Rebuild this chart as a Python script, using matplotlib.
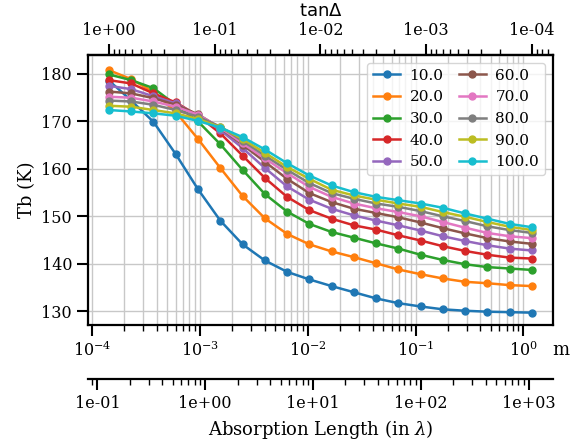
# Tb vs absorption depth for a set of model runs, with tanDelta and
# absorption-length (in wavelengths) as extra x axes
import numpy as np
import matplotlib
matplotlib.use("Agg")
import matplotlib.pyplot as plt
from matplotlib.ticker import FixedLocator, FormatStrFormatter, NullFormatter

plt.rcParams['font.family'] = 'DejaVu Serif'
plt.rcParams['mathtext.fontset'] = 'dejavuserif'

# loss tangent sampled on the run grid
tan_delta = np.logspace(0, -4, 20)

# depth conversion (m) fitted to the axes, and wavelength (m)
depth_scale = 1.4365e-4
depth_power = 0.98055
wavelength = 1.12e-3

labels = ['10.0', '20.0', '30.0', '40.0', '50.0',
          '60.0', '70.0', '80.0', '90.0', '100.0']

tb_10 = [178.6, 174.4, 169.9, 163.1, 155.7, 149.1, 144.1, 140.7, 138.3, 136.7,
         135.3, 134.0, 132.7, 131.7, 131.0, 130.4, 130.1, 129.9, 129.8, 129.7]
tb_20 = [180.8, 178.9, 176.2, 172.0, 166.3, 160.2, 154.3, 149.6, 146.3, 144.1,
         142.6, 141.4, 140.1, 138.8, 137.8, 136.9, 136.2, 135.9, 135.5, 135.3]
tb_30 = [179.9, 178.7, 177.0, 173.5, 170.0, 165.2, 159.8, 154.7, 151.0, 148.4,
         146.7, 145.5, 144.3, 143.2, 141.9, 140.8, 139.9, 139.3, 139.0, 138.7]
tb_40 = [178.7, 178.0, 175.9, 174.0, 171.2, 167.5, 162.8, 158.1, 154.1, 151.3,
         149.5, 148.1, 147.2, 146.0, 144.9, 143.7, 142.7, 141.9, 141.3, 141.1]
tb_50 = [177.5, 176.8, 175.3, 173.8, 171.2, 168.2, 164.4, 160.2, 156.3, 153.5,
         151.6, 150.2, 149.1, 148.1, 147.0, 145.8, 144.8, 143.9, 143.2, 142.8]
tb_60 = [176.3, 175.9, 174.9, 173.5, 171.5, 168.6, 165.1, 161.5, 157.9, 154.9,
         153.0, 151.6, 150.7, 149.8, 148.7, 147.5, 146.4, 145.4, 144.7, 144.2]
tb_70 = [175.2, 175.0, 174.2, 173.1, 171.4, 168.7, 165.4, 162.2, 159.1, 156.2,
         154.1, 152.7, 151.7, 150.9, 150.0, 148.8, 147.6, 146.5, 145.8, 145.4]
tb_80 = [174.4, 174.2, 173.5, 172.4, 171.0, 168.9, 165.9, 162.8, 159.8, 157.0,
         154.9, 153.7, 152.7, 152.0, 151.1, 150.0, 149.0, 147.9, 147.1, 146.5]
tb_90 = [173.3, 173.1, 172.4, 171.7, 170.5, 168.8, 166.3, 163.4, 160.4, 157.9,
         155.6, 154.4, 153.5, 152.7, 152.0, 150.9, 149.9, 148.8, 147.8, 147.1]
tb_100 = [172.4, 172.1, 171.7, 171.2, 170.1, 168.7, 166.7, 164.1, 161.2, 158.6,
          156.5, 155.1, 154.1, 153.4, 152.7, 151.8, 150.6, 149.5, 148.4, 147.7]

all_tb = [tb_10, tb_20, tb_30, tb_40, tb_50, tb_60, tb_70, tb_80, tb_90, tb_100]

# tick values for the extra axes
tan_ticks = [1e0, 1e-1, 1e-2, 1e-3, 1e-4]
lam_ticks = [1e-1, 1e0, 1e1, 1e2, 1e3]

depth = depth_scale * tan_delta ** (-depth_power)
xmin, xmax = 9.18e-5, 1.88


def depth_to_tan(m):
    m = np.clip(np.asarray(m, dtype=float), 1e-12, None)
    return (m / depth_scale) ** (-1.0 / depth_power)


def tan_to_depth(t):
    t = np.clip(np.asarray(t, dtype=float), 1e-12, None)
    return depth_scale * t ** (-depth_power)


def depth_to_lam(m):
    return np.asarray(m, dtype=float) / wavelength


def lam_to_depth(l):
    return np.asarray(l, dtype=float) * wavelength


def minor_in_range(lo, hi):
    # 2..9 x 10^k that fall inside [lo, hi]
    out = []
    for k in range(int(np.floor(np.log10(lo))) - 1, int(np.ceil(np.log10(hi))) + 1):
        for s in range(2, 10):
            v = s * 10.0 ** k
            if lo <= v <= hi:
                out.append(v)
    return out


fig = plt.figure(figsize=(5.7, 4.4), dpi=100)
ax = fig.add_axes([0.1544, 0.2614, 0.8156, 0.6136])

for tb, lab in zip(all_tb, labels):
    ax.plot(depth, tb, marker='o', markersize=5, linewidth=1.8, label=lab)

ax.set_xscale('log')
ax.set_xlim(xmin, xmax)
ax.set_ylim(127.1, 184.0)
ax.set_yticks([130, 140, 150, 160, 170, 180])

ax.grid(True, which='major', color='#c8c8c8', linewidth=1.0)
ax.grid(True, which='minor', axis='x', color='#c8c8c8', linewidth=1.0)
ax.set_axisbelow(True)

for s in ax.spines.values():
    s.set_linewidth(1.6)
ax.tick_params(which='major', length=8, width=1.5, labelsize=11.5, direction='out')
ax.tick_params(which='minor', length=4.5, width=1.0, direction='out')
ax.tick_params(axis='y', which='minor', left=False)

ax.set_ylabel('Tb (K)', fontsize=13)
ax.text(1.017, -0.093, 'm', transform=ax.transAxes, ha='center', va='center',
        fontsize=13)

# tanDelta on top
top = ax.secondary_xaxis('top', functions=(depth_to_tan, tan_to_depth))
t_lo, t_hi = sorted([float(depth_to_tan(xmax)), float(depth_to_tan(xmin))])
top.xaxis.set_major_locator(FixedLocator(tan_ticks))
top.xaxis.set_minor_locator(FixedLocator(minor_in_range(t_lo, t_hi)))
top.xaxis.set_major_formatter(FormatStrFormatter('%.0e'))
top.xaxis.set_minor_formatter(NullFormatter())
top.tick_params(which='major', length=8, width=1.5, labelsize=11.5)
top.tick_params(which='minor', length=4.5, width=1.0)
top.spines['top'].set_linewidth(1.6)
top.set_xlabel('tan$\\Delta$', fontsize=13, family='DejaVu Sans')
top.xaxis.label.set_math_fontfamily('dejavusans')

# absorption length in wavelengths below
bot = ax.secondary_xaxis(-0.2, functions=(depth_to_lam, lam_to_depth))
bot.xaxis.set_major_locator(FixedLocator(lam_ticks))
bot.xaxis.set_minor_locator(FixedLocator(minor_in_range(float(depth_to_lam(xmin)),
                                                        float(depth_to_lam(xmax)))))
bot.xaxis.set_major_formatter(FormatStrFormatter('%.0e'))
bot.xaxis.set_minor_formatter(NullFormatter())
bot.tick_params(which='major', length=8, width=1.5, labelsize=11.5)
bot.tick_params(which='minor', length=4.5, width=1.0)
bot.spines['bottom'].set_linewidth(1.6)
bot.set_xlabel('Absorption Length (in $\\lambda$)', fontsize=13)

ax.legend(loc='upper right', ncol=2, fontsize=11, handlelength=1.8,
          handletextpad=0.6, columnspacing=1.0, framealpha=0.8)

fig.savefig('out.png', dpi=100)
